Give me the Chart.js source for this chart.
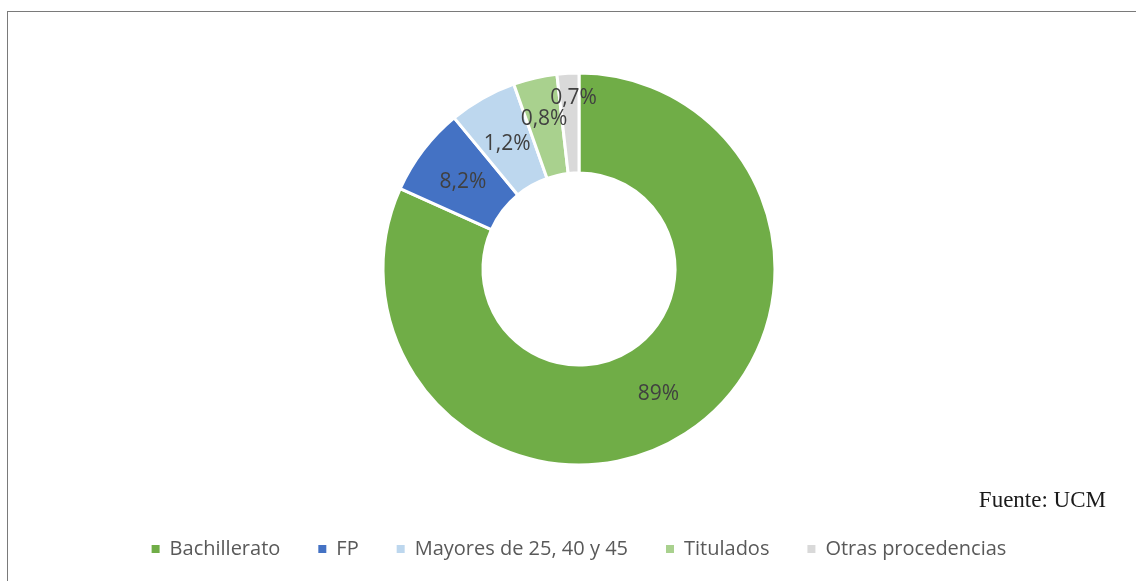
<!DOCTYPE html>
<html lang="es">
<head>
<meta charset="utf-8">
<title>Procedencia de los estudiantes</title>
<script src="https://cdn.jsdelivr.net/npm/chart.js@4/dist/chart.umd.min.js"></script>
<style>
  html, body { margin: 0; padding: 0; background: #fff; }
  .frame {
    position: absolute; left: 7px; top: 11px; width: 1200px; height: 700px;
    border-left: 1px solid #7a7a7a; border-top: 1px solid #7a7a7a;
  }
  .wrap { position: absolute; left: 0; top: 0; width: 1136px; height: 581px; }
</style>
</head>
<body>
<div class="frame"></div>
<div class="wrap"><canvas id="procChart" width="1136" height="581"></canvas></div>
<script>
// categories and values (slice sizes as drawn, labels as printed)
const categories = ['Bachillerato', 'FP', 'Mayores de 25, 40 y 45', 'Titulados', 'Otras procedencias'];
const sliceValues = [81.8, 7.3, 5.6, 3.6, 1.8];
const labelTexts = ['89%', '8,2%', '1,2%', '0,8%', '0,7%'];
const sliceColors = ['#70AD47', '#4472C4', '#BDD7EE', '#A9D18E', '#D9D9D9'];
const sourceText = 'Fuente: UCM';

// draws the % labels inside the ring
const sliceLabels = {
  id: 'sliceLabels',
  afterDatasetsDraw(chart) {
    const ctx = chart.ctx;
    const arcs = chart.getDatasetMeta(0).data;
    ctx.save();
    ctx.font = '21px "Open Sans"';
    ctx.fillStyle = '#404040';
    ctx.textAlign = 'center';
    ctx.textBaseline = 'middle';
    arcs.forEach((arc, i) => {
      const p = arc.getProps(['x', 'y', 'startAngle', 'endAngle', 'innerRadius', 'outerRadius'], true);
      let mid = (p.startAngle + p.endAngle) / 2;
      let r = (p.innerRadius + p.outerRadius) / 2;
      // tiny slices: labels pushed outward a bit to avoid overlap
      if (i === 3) r += 10;
      if (i === 4) { r += 27; mid += 0.025; }
      ctx.fillText(labelTexts[i], p.x + Math.cos(mid) * r, p.y + Math.sin(mid) * r + 2);
    });
    ctx.restore();
  }
};

// source note, bottom right
const sourceNote = {
  id: 'sourceNote',
  afterDraw(chart) {
    const ctx = chart.ctx;
    ctx.save();
    ctx.font = '23px "Liberation Serif"';
    ctx.fillStyle = '#1a1a1a';
    ctx.textAlign = 'right';
    ctx.textBaseline = 'alphabetic';
    ctx.fillText(sourceText, 1106, 507);
    ctx.restore();
  }
};

new Chart(document.getElementById('procChart'), {
  type: 'doughnut',
  data: {
    labels: categories,
    datasets: [{
      data: sliceValues,
      backgroundColor: sliceColors,
      borderColor: '#fff',
      borderWidth: 3,
      radius: 196,
      cutout: '49%'
    }]
  },
  options: {
    responsive: false,
    animation: false,
    layout: { padding: { left: 22, right: 0, top: 37, bottom: 12 } },
    plugins: {
      tooltip: { enabled: false },
      legend: {
        position: 'bottom',
        labels: {
          boxWidth: 8,
          boxHeight: 8,
          padding: 38,
          color: '#595959',
          font: { family: '"Open Sans"', size: 20 },
          generateLabels: chart =>
            Chart.overrides.doughnut.plugins.legend.labels.generateLabels(chart)
              .map(l => ({ ...l, lineWidth: 0 }))
        }
      }
    }
  },
  plugins: [sliceLabels, sourceNote]
});
</script>
</body>
</html>
